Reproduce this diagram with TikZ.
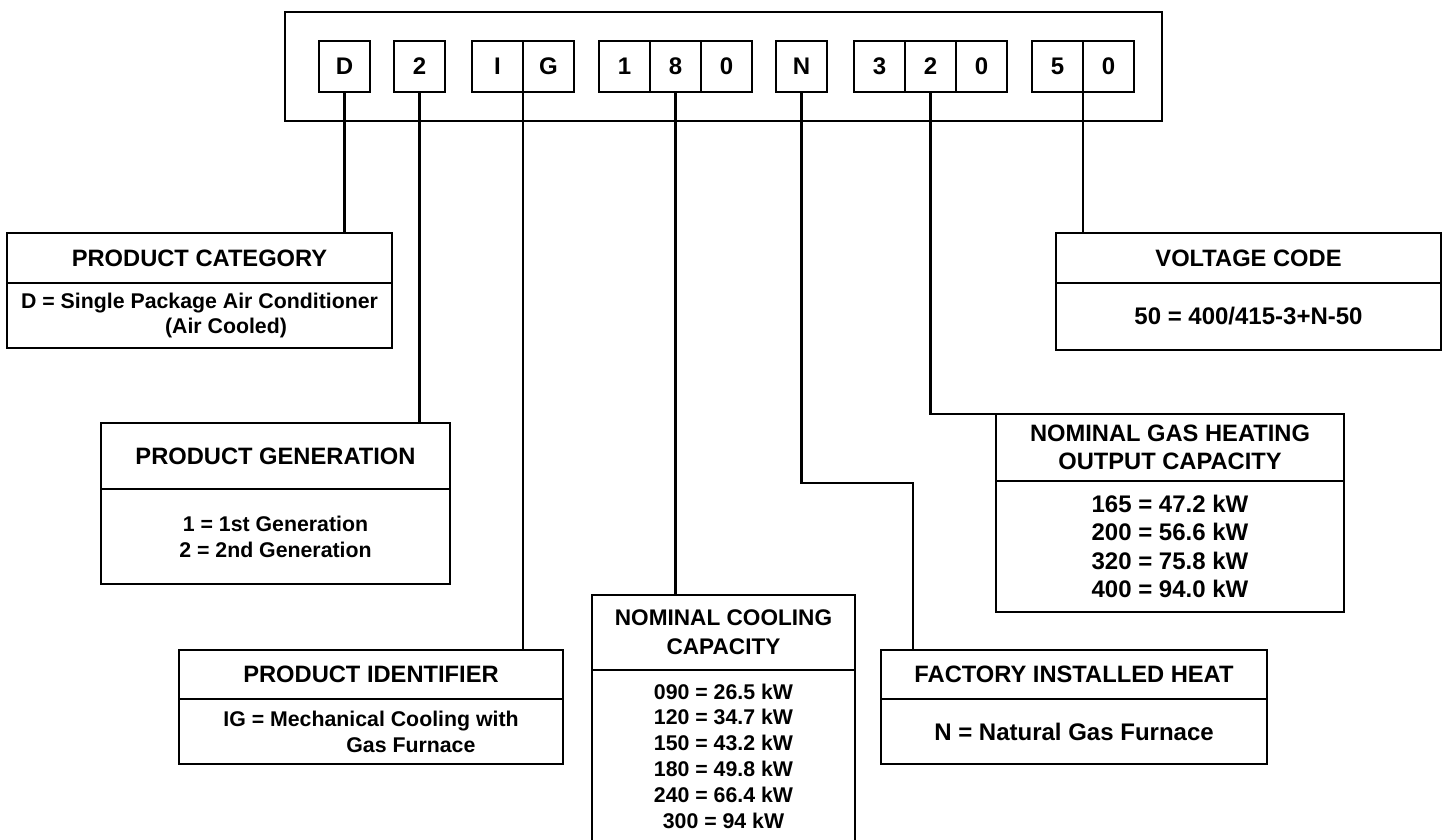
\documentclass[tikz,border=0pt]{standalone}
\usepackage{fontspec}
\setmainfont{Liberation Sans}
\begin{document}
\begin{tikzpicture}[x=1pt,y=-1pt,
  every node/.style={inner sep=0pt, outer sep=0pt},
  frame/.style={draw, line width=2.6pt, rectangle, anchor=north west},
  letter/.style={frame, minimum width=51pt, minimum height=51pt, font=\fontsize{24}{28}\selectfont\bfseries},
  ttl/.style={frame, align=center, font=\fontsize{23.7}{28.5}\selectfont\bfseries},
  bd/.style={frame, align=center, font=\fontsize{21.3}{25.8}\selectfont\bfseries},
  bdl/.style={frame, align=center, font=\fontsize{24}{28.5}\selectfont\bfseries},
  wire/.style={line width=2.6pt}]
\useasboundingbox (0,0) rectangle (1448,839);

% outer frame
\node[frame, minimum width=877pt, minimum height=109pt] (outer) at (285,12) {};

% code letters
\node[letter] (lD) at (319,41) {D};
\node[letter] (l2) at (394,41) {2};
\node[letter] (lI) at (472,41) {I};
\node[letter] (lG) at (523,41) {G};
\node[letter] (l1) at (599,41) {1};
\node[letter] (l8) at (650,41) {8};
\node[letter] (l0a) at (701,41) {0};
\node[letter] (lN) at (776,41) {N};
\node[letter] (l3) at (854,41) {3};
\node[letter] (l2b) at (905,41) {2};
\node[letter] (l0b) at (956,41) {0};
\node[letter] (l5) at (1032,41) {5};
\node[letter] (l0c) at (1083,41) {0};

% Product category
\node[ttl, minimum width=385pt, minimum height=50pt] (pcH) at (7,233) {PRODUCT CATEGORY};
\node[bd, align=left, minimum width=385pt, minimum height=65pt] (pcB) at (pcH.south west) {D = Single Package Air Conditioner\\\hspace*{144pt}(Air Cooled)};

% Product generation
\node[ttl, minimum width=349pt, minimum height=66pt] (pgH) at (101,423) {PRODUCT GENERATION};
\node[bd, minimum width=349pt, minimum height=95pt] (pgB) at (pgH.south west) {1 = 1st Generation\\2 = 2nd Generation};

% Product identifier
\node[ttl, minimum width=384pt, minimum height=49pt] (piH) at (179,650) {PRODUCT IDENTIFIER};
\node[bd, align=left, minimum width=384pt, minimum height=65pt] (piB) at (piH.south west) {IG = Mechanical Cooling with\\\hspace*{123pt}Gas Furnace};

% Nominal cooling capacity
\node[ttl, font=\fontsize{22.6}{29}\selectfont\bfseries, minimum width=263pt, minimum height=75pt] (ncH) at (592,595) {NOMINAL COOLING\\CAPACITY};
\node[bd, minimum width=263pt, minimum height=172pt] (ncB) at (ncH.south west) {090 = 26.5 kW\\120 = 34.7 kW\\150 = 43.2 kW\\180 = 49.8 kW\\240 = 66.4 kW\\300 = 94 kW};

% Factory installed heat
\node[ttl, minimum width=386pt, minimum height=49pt] (fiH) at (881,650) {FACTORY INSTALLED HEAT};
\node[bdl, minimum width=386pt, minimum height=65pt] (fiB) at (fiH.south west) {N = Natural Gas Furnace};

% Nominal gas heating output capacity
\node[ttl, minimum width=348pt, minimum height=67pt] (ngH) at (996,414) {NOMINAL GAS HEATING\\OUTPUT CAPACITY};
\node[bdl, minimum width=348pt, minimum height=131pt] (ngB) at (ngH.south west) {165 = 47.2 kW\\200 = 56.6 kW\\320 = 75.8 kW\\400 = 94.0 kW};

% Voltage code
\node[ttl, minimum width=385pt, minimum height=50pt] (vcH) at (1056,233) {VOLTAGE CODE};
\node[bdl, minimum width=385pt, minimum height=67pt] (vcB) at (vcH.south west) {50 = 400/415-3+N-50};

% connectors
\coordinate (nk) at (913,483);
\draw[wire] (lD.south) -- (lD.south |- pcH.north);
\draw[wire] (l2.south) -- (l2.south |- pgH.north);
\draw[wire] (lI.south east) -- (lI.south east |- piH.north);
\draw[wire] (l8.south) -- (l8.south |- ncH.north);
\draw[wire] (lN.south) |- (nk) -- (nk |- fiH.north);
\draw[wire] (l2b.south) |- (ngH.north west);
\draw[wire] (l5.south east) -- (l5.south east |- vcH.north);
\end{tikzpicture}
\end{document}
